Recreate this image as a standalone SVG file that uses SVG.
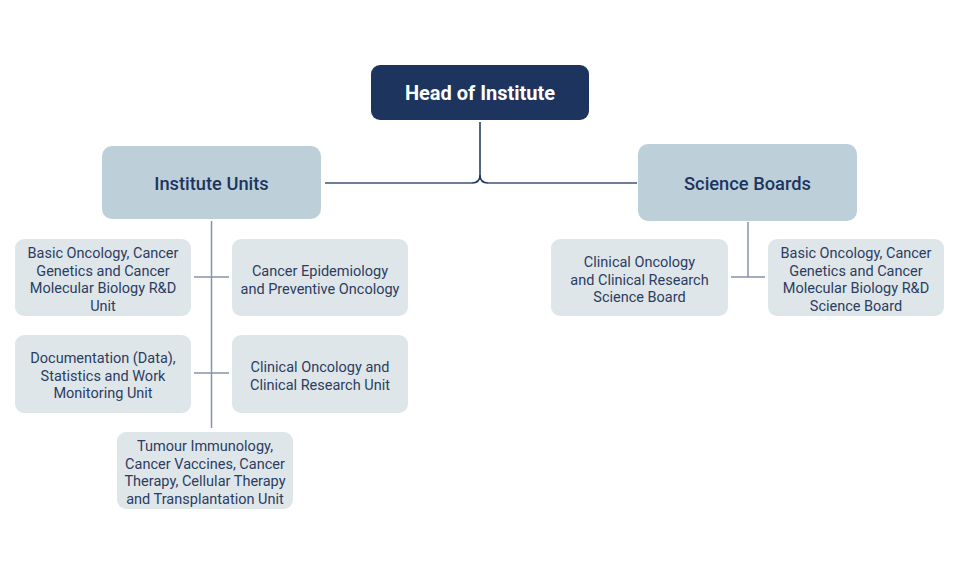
<svg xmlns="http://www.w3.org/2000/svg" width="960" height="575" viewBox="0 0 960 575">
<style>
.bg{fill:#ffffff}
.head{fill:#1d355e}
.mid{fill:#bdd0da}
.leaf{fill:#dfe6ea}
.ht{font-family:Roboto,"Liberation Sans",sans-serif;font-size:20px;font-weight:700;fill:#ffffff;text-anchor:middle}
.mt{font-family:Roboto,"Liberation Sans",sans-serif;font-size:18.3px;font-weight:500;fill:#1d355e;text-anchor:middle}
.lt{font-family:Roboto,"Liberation Sans",sans-serif;font-size:14.5px;font-weight:400;fill:#2b3d60;text-anchor:middle}
.c1{fill:none;stroke:#1d355e;stroke-width:1.5}
.c2{fill:none;stroke:#6f7f98;stroke-width:2}
.c3{fill:none;stroke:#8593a8;stroke-width:1.5}
</style>
<rect class="bg" x="0" y="0" width="960" height="575"/>
<g id="connectors">
<path class="c1" d="M480 122 V175 Q480 183 472 183"/>
<path class="c1" d="M480 175 Q480 183 488 183"/>
<path class="c2" d="M325 183 H472 M488 183 H637"/>
<path class="c3" d="M211.5 221 V428"/>
<path class="c3" d="M194 277 H229"/>
<path class="c3" d="M194 373 H229"/>
<path class="c3" d="M748 222 V277 M731 277 H765"/>
</g>
<g id="head">
<rect class="head" x="371" y="65" width="218" height="55" rx="9"/>
<text class="ht" x="480" y="99.5">Head of Institute</text>
</g>
<g id="institute-units">
<rect class="mid" x="102" y="146" width="219" height="73" rx="10"/>
<text class="mt" x="211.5" y="190">Institute Units</text>
</g>
<g id="science-boards">
<rect class="mid" x="638" y="144" width="219" height="77" rx="10"/>
<text class="mt" x="747.5" y="190">Science Boards</text>
</g>
<g id="basic-oncology-unit">
<rect class="leaf" x="15" y="239" width="176" height="77" rx="9"/>
<text class="lt" x="103" y="258">Basic Oncology, Cancer</text>
<text class="lt" x="103" y="275.5">Genetics and Cancer</text>
<text class="lt" x="103" y="293">Molecular Biology R&amp;D</text>
<text class="lt" x="103" y="310.5">Unit</text>
</g>
<g id="cancer-epidemiology">
<rect class="leaf" x="232" y="239" width="176" height="77" rx="9"/>
<text class="lt" x="320" y="276">Cancer Epidemiology</text>
<text class="lt" x="320" y="293.5">and Preventive Oncology</text>
</g>
<g id="documentation-unit">
<rect class="leaf" x="15" y="335" width="176" height="78" rx="9"/>
<text class="lt" x="103" y="363">Documentation (Data),</text>
<text class="lt" x="103" y="380.5">Statistics and Work</text>
<text class="lt" x="103" y="398">Monitoring Unit</text>
</g>
<g id="clinical-oncology-unit">
<rect class="leaf" x="232" y="335" width="176" height="78" rx="9"/>
<text class="lt" x="320" y="372">Clinical Oncology and</text>
<text class="lt" x="320" y="389.5">Clinical Research Unit</text>
</g>
<g id="tumour-immunology-unit">
<rect class="leaf" x="117" y="432" width="176" height="77" rx="9"/>
<text class="lt" x="205" y="451">Tumour Immunology,</text>
<text class="lt" x="205" y="468.5">Cancer Vaccines, Cancer</text>
<text class="lt" x="205" y="486">Therapy, Cellular Therapy</text>
<text class="lt" x="205" y="503.5">and Transplantation Unit</text>
</g>
<g id="clinical-oncology-board">
<rect class="leaf" x="551" y="239" width="177" height="77" rx="9"/>
<text class="lt" x="639.5" y="267">Clinical Oncology</text>
<text class="lt" x="639.5" y="284.5">and Clinical Research</text>
<text class="lt" x="639.5" y="302">Science Board</text>
</g>
<g id="basic-oncology-board">
<rect class="leaf" x="768" y="239" width="176" height="77" rx="9"/>
<text class="lt" x="856" y="258">Basic Oncology, Cancer</text>
<text class="lt" x="856" y="275.5">Genetics and Cancer</text>
<text class="lt" x="856" y="293">Molecular Biology R&amp;D</text>
<text class="lt" x="856" y="310.5">Science Board</text>
</g>
</svg>
